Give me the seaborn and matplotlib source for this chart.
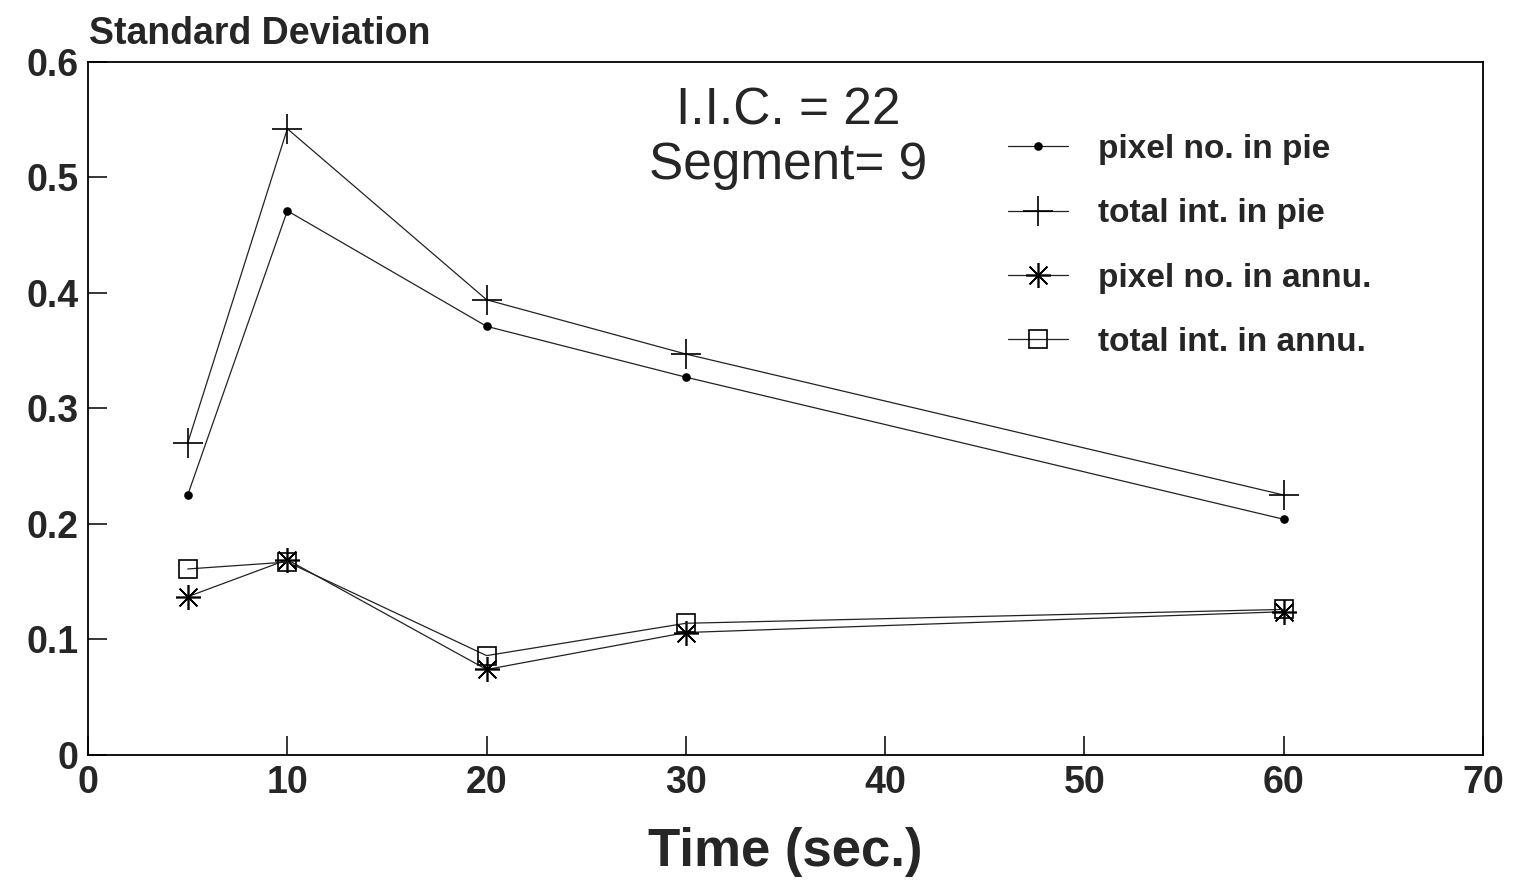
import numpy as np
import pandas as pd
import matplotlib
matplotlib.use('Agg')
import matplotlib.pyplot as plt
import seaborn as sns

time_sec = [5, 10, 20, 30, 60]
pix_pie = [0.225, 0.471, 0.371, 0.327, 0.204]
tot_pie = [0.270, 0.542, 0.394, 0.347, 0.225]
pix_annu = [0.137, 0.169, 0.074, 0.106, 0.124]
tot_annu = [0.161, 0.167, 0.086, 0.114, 0.126]
labels = ['pixel no. in pie', 'total int. in pie',
          'pixel no. in annu.', 'total int. in annu.']

sns.set_style('white')
plt.rcParams['font.family'] = ['Liberation Sans', 'DejaVu Sans']

fig = plt.figure(figsize=(15.13, 8.82), dpi=100)
ax = fig.add_axes([0.0582, 0.144, 0.922, 0.786])

series = [pix_pie, tot_pie, pix_annu, tot_annu]
markers = ['o', '+', (8, 2, 0), 's']
msizes = [5, 22, 18, 13]
for vals, lab, mk, ms in zip(series, labels, markers, msizes):
    df = pd.DataFrame({'t': time_sec, 'sd': vals})
    sns.lineplot(data=df, x='t', y='sd', ax=ax, color='#222222', lw=0.9,
                 marker=mk, markersize=ms,
                 markerfacecolor='none' if mk == 's' else 'black',
                 markeredgecolor='black', markeredgewidth=1.2, label=lab)

ax.set_xlim(0, 70)
ax.set_ylim(0, 0.6)
ax.set_xticks([0, 10, 20, 30, 40, 50, 60, 70])
ax.set_yticks([0, 0.1, 0.2, 0.3, 0.4, 0.5, 0.6])
ax.set_xticklabels(['0', '10', '20', '30', '40', '50', '60', '70'])
ax.set_yticklabels(['0', '0.1', '0.2', '0.3', '0.4', '0.5', '0.6'])
ax.tick_params(direction='in', length=14, width=1.3, labelsize=27, pad=7,
               bottom=True, left=True, top=False, right=False)
for t in ax.get_xticklabels() + ax.get_yticklabels():
    t.set_fontweight('bold')
for s in ax.spines.values():
    s.set_color('black')
    s.set_linewidth(1.3)

ax.set_xlabel('Time (sec.)', fontsize=38, fontweight='bold', labelpad=19)
ax.set_ylabel('')
fig.text(0.059, 0.962, 'Standard Deviation', fontsize=27, fontweight='bold',
         ha='left', va='center')

fig.text(0.521, 0.902, 'I.I.C. = 22\nSegment= 9', fontsize=37,
         ha='center', va='top', linespacing=1.15)

leg = ax.legend(loc='upper left', bbox_to_anchor=(1008 / 1513, 1 - 134 / 882),
                bbox_transform=fig.transFigure, frameon=False,
                borderpad=0, borderaxespad=0,
                prop={'size': 24, 'weight': 'bold'},
                handlelength=1.8, labelspacing=1.0, handletextpad=0.9)

fig.savefig('out.png', dpi=100)
